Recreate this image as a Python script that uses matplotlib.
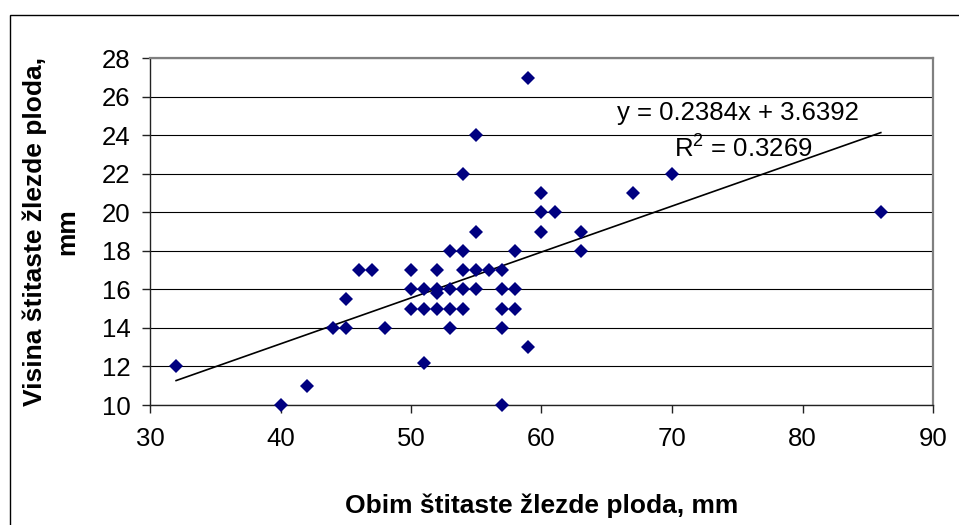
import matplotlib
matplotlib.use("Agg")
import matplotlib.pyplot as plt
from matplotlib.patches import Rectangle

plt.rcParams["font.family"] = ["Liberation Sans", "DejaVu Sans"]
plt.rcParams["mathtext.default"] = "regular"

# obim (x) and visina (y) of the fetal thyroid, mm
obim = [32, 40, 42, 44, 45, 45, 46, 47, 48,
        50, 50, 50, 51, 51, 51,
        52, 52, 52, 52, 53, 53, 53, 53,
        54, 54, 54, 54, 54, 55, 55, 55, 55, 56,
        57, 57, 57, 57, 57, 58, 58, 58, 59, 59,
        60, 60, 60, 61, 63, 63, 67, 70, 86]
visina = [12, 10, 11, 14, 14, 15.5, 17, 17, 14,
          17, 16, 15, 16, 15, 12.2,
          17, 16, 15.8, 15, 18, 16, 15, 14,
          22, 18, 17, 16, 15, 24, 19, 17, 16, 17,
          17, 16, 15, 14, 10, 18, 16, 15, 27, 13,
          21, 20, 19, 20, 19, 18, 21, 22, 20]

# linear trend as printed on the chart
trend_slope = 0.2384
trend_intercept = 3.6392
r_squared = 0.3269

x_ticks = [30, 40, 50, 60, 70, 80, 90]
y_ticks = [10, 12, 14, 16, 18, 20, 22, 24, 26, 28]

x_label = "Obim štitaste žlezde ploda, mm"
y_label = "Visina štitaste žlezde ploda,\nmm"

fig = plt.figure(figsize=(9.59, 5.25), dpi=100)
ax = fig.add_axes([150 / 959, 1 - 405 / 525, 783 / 959, 346.7 / 525])

# outer chart frame
fig.add_artist(Rectangle((10 / 959, -0.1), 1.2, 1.1 - 15 / 525,
                         transform=fig.transFigure, fill=False,
                         edgecolor="black", linewidth=1.0))

ax.set_xlim(30, 90)
ax.set_ylim(10, 28)
ax.set_xticks(x_ticks)
ax.set_yticks(y_ticks)

ax.grid(axis="y", color="black", linewidth=0.8)
ax.set_axisbelow(True)

# trend line
x_line = [min(obim), max(obim)]
y_line = [trend_slope * v + trend_intercept for v in x_line]
ax.plot(x_line, y_line, color="black", linewidth=1.2, zorder=3)

# points
ax.plot(obim, visina, linestyle="none", marker="D", markersize=7,
        color="#000080", markeredgewidth=0, zorder=4, clip_on=False)

ax.text(65.8, 24.8, f"y = {trend_slope}x + {trend_intercept}",
        fontsize=18.5, va="baseline", ha="left")
ax.text(70.15, 22.83, f"R$^{{2}}$ = {r_squared}",
        fontsize=18.5, va="baseline", ha="left")

for side in ["top", "right"]:
    ax.spines[side].set_color("#808080")
    ax.spines[side].set_linewidth(1.6)
for side in ["left", "bottom"]:
    ax.spines[side].set_color("#222222")
    ax.spines[side].set_linewidth(1.0)

ax.tick_params(direction="out", length=6, width=1.0, color="#222222",
               labelsize=18.5)
ax.tick_params(axis="y", pad=8)
ax.tick_params(axis="x", pad=10)

fig.text(541.5 / 959, 1 - 513 / 525, x_label, fontsize=19,
         fontweight="bold", ha="center", va="baseline")
fig.text(51 / 959, 1 - 231.5 / 525, y_label, fontsize=19,
         fontweight="bold", rotation=90, ha="center", va="center",
         multialignment="center", linespacing=1.45)

fig.savefig("out.png", dpi=100)
